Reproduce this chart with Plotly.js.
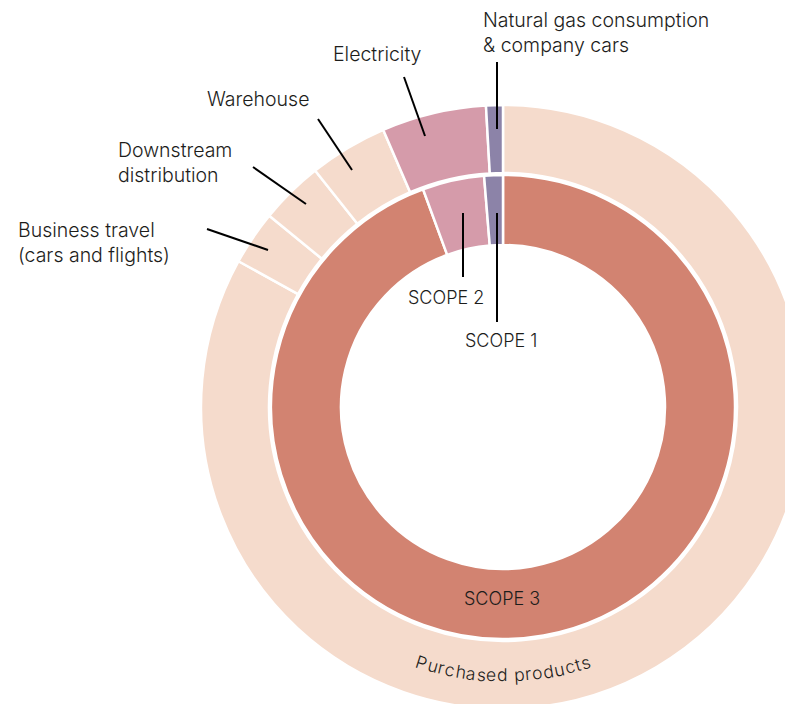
<!DOCTYPE html>
<html>
<head>
<meta charset="utf-8">
<script src="https://cdn.plot.ly/plotly-3.0.1.min.js"></script>
<style>
html, body { margin:0; padding:0; overflow:hidden; background:#ffffff; }
#chart { width:820px; height:720px; }
</style>
</head>
<body>
<div id="chart"></div>
<script>
// ---- data (percent shares) ----
var outerLabels = ['Purchased products', 'Business travel (cars and flights)', 'Downstream distribution', 'Warehouse', 'Electricity', 'Natural gas consumption & company cars'];
var outerValues = [83.1, 2.9, 3.4, 4.2, 5.6, 0.9];
var innerLabels = ['SCOPE 3', 'SCOPE 2', 'SCOPE 1'];
var innerValues = [94.4, 4.3, 1.3];

// ---- styling ----
var outerColors = ['#F5DBCC', '#F5DBCC', '#F5DBCC', '#F5DBCC', '#D59BAA', '#8C83A8'];
var innerColors = ['#D28371', '#D59BAA', '#8C83A8'];

var W = 820, H = 720;
var CX = 503, CY = 407;
var R_OUT = 302, R_OUT_HOLE = 234;
var R_IN = 232, R_IN_HOLE = 162;
function px(x) { return x / W; }
function py(y) { return 1 - y / H; }
function dom(r) {
  return { x: [px(CX - r), px(CX + r)], y: [py(CY + r), py(CY - r)] };
}

var FONT = 'Inter, Lato, sans-serif';
var WEIGHT = 300;
var TXT = '#1d1d1b';
var LS = 19.5;

var traces = [
  {
    type: 'pie', labels: outerLabels, values: outerValues,
    sort: false, direction: 'clockwise', rotation: 0,
    hole: R_OUT_HOLE / R_OUT, domain: dom(R_OUT),
    marker: { colors: outerColors, line: { color: '#ffffff', width: 2.5 } },
    textinfo: 'none', hoverinfo: 'label+percent', showlegend: false
  },
  {
    type: 'pie', labels: innerLabels, values: innerValues,
    sort: false, direction: 'clockwise', rotation: 0,
    hole: R_IN_HOLE / R_IN, domain: dom(R_IN),
    marker: { colors: innerColors, line: { color: '#ffffff', width: 2.5 } },
    textinfo: 'none', hoverinfo: 'label+percent', showlegend: false
  }
];

function seg(x0, y0, x1, y1) {
  return { type: 'line', xref: 'paper', yref: 'paper', x0: px(x0), y0: py(y0), x1: px(x1), y1: py(y1),
           line: { color: '#000000', width: 2 } };
}
var shapes = [
  seg(497, 62, 497, 129),
  seg(404, 77, 425, 136),
  seg(318, 119, 352, 170),
  seg(253, 167, 306, 204),
  seg(207, 229, 268, 250),
  seg(463, 213, 463, 277),
  seg(497, 213, 497, 322)
];

function lab(text, x, y, size, anchor) {
  return { text: text, x: px(x), y: py(y), xref: 'paper', yref: 'paper', showarrow: false,
           xanchor: anchor || 'left', yanchor: 'middle', align: 'left',
           font: { family: FONT, size: size, color: TXT, weight: WEIGHT } };
}
var annotations = [
  lab('Natural gas consumption<br>& company cars', 481, 33, LS),
  lab('Electricity', 331, 54, LS),
  lab('Warehouse', 205, 99, LS),
  lab('Downstream<br>distribution', 116, 163, LS),
  lab('Business travel<br>(cars and flights)', 16, 242, LS),
  lab(innerLabels[1], 446, 297, 18, 'center'),
  lab(innerLabels[2], 501, 340, 18, 'center'),
  lab(innerLabels[0], 502, 598, 18, 'center')
];

// curved label along the outer ring
(function () {
  var txt = outerLabels[0];
  var size = 17.5;
  var c = document.createElement('canvas').getContext('2d');
  c.font = WEIGHT + ' ' + size + 'px Inter';
  var widths = [], total = 0;
  for (var i = 0; i < txt.length; i++) { var w = c.measureText(txt[i]).width; widths.push(w); total += w; }
  var rMid = 268;
  var targetArc = 176;
  var extra = (targetArc - total) / (txt.length - 1);
  var arc = total + extra * (txt.length - 1);
  var s = -arc / 2;
  for (var j = 0; j < txt.length; j++) {
    var mid = s + widths[j] / 2;
    s += widths[j] + extra;
    if (txt[j] === ' ') continue;
    var phi = mid / rMid;
    var x = CX + rMid * Math.sin(phi);
    var y = CY + rMid * Math.cos(phi);
    annotations.push({ text: txt[j], x: px(x), y: py(y), xref: 'paper', yref: 'paper', showarrow: false,
      xanchor: 'center', yanchor: 'middle', textangle: -phi * 180 / Math.PI,
      font: { family: FONT, size: size, color: TXT, weight: WEIGHT } });
  }
})();

var layout = {
  width: W, height: H,
  margin: { l: 0, r: 0, t: 0, b: 0 },
  paper_bgcolor: '#ffffff', plot_bgcolor: '#ffffff',
  showlegend: false,
  shapes: shapes,
  annotations: annotations
};

Plotly.newPlot('chart', traces, layout, { displayModeBar: false, staticPlot: true });
</script>
</body>
</html>
